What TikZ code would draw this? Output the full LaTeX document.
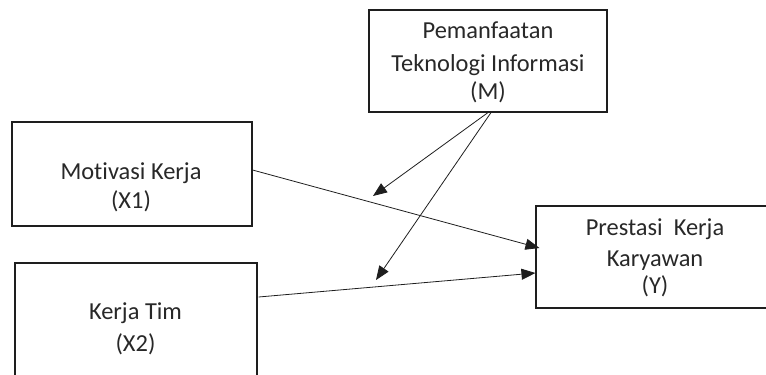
\documentclass[tikz,border=0pt]{standalone}
\usepackage{fontspec}
\setmainfont{Carlito}[Ligatures=NoCommon]
\usetikzlibrary{arrows.meta}
\definecolor{txt}{RGB}{40,40,40}
\definecolor{ln}{RGB}{30,30,30}
\begin{document}
\begin{tikzpicture}[x=1bp,y=-1bp,
  box/.style={draw=ln,line width=1.1bp,inner sep=0pt,fill=white},
  lbl/.style={anchor=base,inner sep=0pt,text=txt,font=\fontsize{24.5}{29}\selectfont},
  conn/.style={draw=ln,line width=0.8bp,-{Triangle[length=14bp,width=11bp]}}]
\useasboundingbox (0,0) rectangle (766,374);
\clip (0,0) rectangle (766,374);
% boxes
\node[box,minimum width=238bp,minimum height=102bp] (M) at (488,61) {};
\node[box,minimum width=240bp,minimum height=104bp] (X1) at (132,174) {};
\node[box,minimum width=242bp,minimum height=115bp] (X2) at (136,320.5) {};
\node[box,minimum width=264bp,minimum height=102bp] (Y) at (668,257) {};
% texts
\node[lbl] (m1) at (488,38) {Pemanfaatan};
\node[lbl] (m2) at (488,71) {Teknologi Informasi};
\node[lbl] (m3) at (488,99) {(M)};
\node[lbl] (a1) at (131,179) {Motivasi Kerja};
\node[lbl] (a2) at (131,208) {(X1)};
\node[lbl] (b1) at (135.5,319) {Kerja Tim};
\node[lbl] (b2) at (135.5,351) {(X2)};
\node[lbl] (y1) at (655,235) {Prestasi\ \ Kerja};
\node[lbl] (y2) at (655,266) {Karyawan};
\node[lbl] (y3) at (655,293) {(Y)};
% free ends
\coordinate (t1) at (373,196);
\coordinate (t2) at (376,280);
% connectors
\draw[conn] (M.south) -- (t1);
\draw[conn] ([xshift=3bp]M.south) -- (t2);
\draw[conn] ([yshift=4bp]X1.east) -- ([xshift=4bp,yshift=9bp]Y.west);
\draw[conn] ([xshift=1bp,yshift=23.5bp]X2.east) -- ([yshift=-16bp]Y.west);
\end{tikzpicture}
\end{document}
